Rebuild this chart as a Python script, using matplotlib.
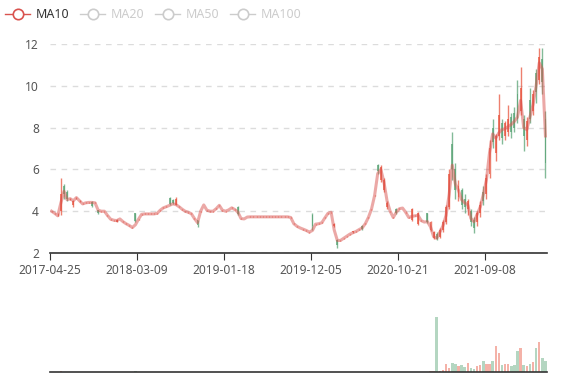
import matplotlib

matplotlib.use('agg')
import matplotlib.pyplot as plt
from matplotlib.lines import Line2D

plt.rcParams['font.family'] = ['Noto Sans', 'DejaVu Sans']

# tick labels on the category axis (every 28th category)
date_labels = ['2017-04-25', '2018-03-09', '2019-01-18', '2019-12-05', '2020-10-21', '2021-09-08']
label_step = 28

ma10 = [4.0, 3.9, 3.78, 4.4, 4.95, 4.55, 4.6, 4.5, 4.65, 4.5,
        4.35, 4.4, 4.42, 4.42, 4.4, 4.05, 4.0, 4.0, 3.8, 3.62,
        3.57, 3.55, 3.63, 3.5, 3.4, 3.32, 3.22, 3.35, 3.62, 3.85,
        3.87, 3.87, 3.87, 3.87, 3.9, 4.05, 4.16, 4.22, 4.28, 4.35,
        4.32, 4.22, 4.1, 4.0, 3.95, 3.88, 3.65, 3.45, 4.0, 4.3,
        4.05, 4.0, 4.0, 4.12, 4.28, 4.05, 4.0, 4.06, 4.16, 4.08,
        3.95, 3.65, 3.63, 3.72, 3.73, 3.73, 3.73, 3.73, 3.73, 3.73,
        3.73, 3.73, 3.73, 3.73, 3.73, 3.73, 3.73, 3.7, 3.4, 3.28,
        3.2, 3.14, 3.08, 3.0, 3.08, 3.38, 3.4, 3.45, 3.68, 3.9,
        3.95, 3.1, 2.6, 2.6, 2.7, 2.8, 2.9, 2.97, 3.03, 3.12,
        3.2, 3.4, 3.7, 4.1, 4.75, 5.8, 6.0, 5.4, 4.5, 4.0,
        3.7, 3.95, 4.12, 4.15, 3.95, 3.7, 3.75, 3.78, 3.8, 3.55,
        3.48, 3.5, 3.25, 2.78, 2.7, 3.0, 3.3, 3.8, 4.8, 6.2,
        5.3, 5.0, 4.55, 4.4, 4.3, 3.65, 3.5, 3.85, 4.2, 4.8,
        5.5, 6.8, 7.7, 7.5, 7.75, 7.9, 7.95, 8.05, 8.15, 8.3,
        8.5, 9.3, 8.0, 7.9, 8.5, 9.1, 10.0, 11.1, 10.8, 7.6]

opens = [4.0, 3.9, 3.78, 4.0, 5.2, 4.9, 4.6, 4.3, 4.65, 4.5,
         4.35, 4.4, 4.42, 4.45, 4.4, 4.05, 4.0, 4.0, 3.8, 3.62,
         3.57, 3.5, 3.63, 3.5, 3.4, 3.32, 3.22, 3.9, 3.62, 3.85,
         3.87, 3.87, 3.87, 3.87, 3.9, 4.05, 4.16, 4.22, 4.65, 4.55,
         4.3, 4.22, 4.1, 4.0, 3.95, 3.88, 3.65, 3.6, 4.0, 4.3,
         4.05, 4.0, 4.0, 4.12, 4.28, 4.05, 4.0, 4.06, 4.16, 4.08,
         4.2, 3.65, 3.63, 3.72, 3.73, 3.73, 3.73, 3.73, 3.73, 3.73,
         3.73, 3.73, 3.73, 3.73, 3.73, 3.73, 3.73, 3.7, 3.4, 3.28,
         3.2, 3.14, 3.08, 3.0, 3.8, 3.38, 3.4, 3.45, 3.68, 3.9,
         3.95, 3.3, 2.6, 2.6, 2.7, 2.8, 2.9, 3.0, 3.03, 3.12,
         3.3, 3.4, 3.7, 4.1, 4.75, 6.2, 5.5, 5.0, 4.2, 4.0,
         3.7, 4.1, 4.12, 4.15, 3.95, 3.7, 3.6, 3.78, 3.4, 3.55,
         3.48, 3.9, 3.1, 2.7, 2.9, 2.75, 3.1, 3.5, 4.2, 7.2,
         6.0, 4.7, 5.0, 4.6, 4.1, 4.0, 3.6, 3.5, 3.9, 4.9,
         4.8, 5.8, 8.0, 6.8, 7.6, 8.2, 7.6, 7.8, 8.5, 8.7,
         9.6, 8.8, 8.4, 7.4, 9.3, 8.8, 10.6, 10.3, 11.3, 8.4]

closes = [4.0, 3.9, 3.78, 4.8, 4.8, 4.6, 4.6, 4.5, 4.65, 4.5,
          4.35, 4.4, 4.42, 4.25, 4.4, 3.9, 4.0, 4.0, 3.8, 3.62,
          3.57, 3.6, 3.63, 3.5, 3.4, 3.32, 3.22, 3.55, 3.62, 3.85,
          3.87, 3.87, 3.87, 3.87, 3.9, 4.05, 4.16, 4.22, 4.35, 4.4,
          4.6, 4.22, 4.1, 4.0, 3.95, 3.88, 3.65, 3.35, 4.0, 4.3,
          4.05, 4.0, 4.0, 4.12, 4.28, 4.05, 4.0, 4.06, 4.16, 4.08,
          3.85, 3.65, 3.63, 3.72, 3.73, 3.73, 3.73, 3.73, 3.73, 3.73,
          3.73, 3.73, 3.73, 3.73, 3.73, 3.73, 3.73, 3.7, 3.4, 3.28,
          3.2, 3.14, 3.08, 3.0, 3.3, 3.38, 3.4, 3.45, 3.68, 3.9,
          3.95, 3.4, 2.4, 2.6, 2.7, 2.8, 2.9, 3.05, 3.03, 3.12,
          3.15, 3.4, 3.7, 4.1, 4.75, 5.9, 6.1, 5.5, 4.4, 4.0,
          3.7, 3.9, 4.12, 4.15, 3.95, 3.7, 4.1, 3.78, 3.9, 3.55,
          3.48, 3.5, 3.5, 3.0, 2.65, 3.1, 3.5, 4.2, 5.8, 6.0,
          5.0, 5.2, 4.3, 4.2, 4.5, 3.5, 3.2, 3.9, 4.3, 4.5,
          5.6, 7.0, 7.3, 7.6, 8.6, 7.5, 8.2, 8.4, 7.8, 8.0,
          8.4, 9.9, 7.6, 8.3, 8.4, 9.6, 9.7, 11.4, 10.2, 6.3]

highs = [4.02, 3.92, 3.9, 5.6, 5.3, 5.0, 4.65, 4.55, 4.7, 4.52,
         4.37, 4.42, 4.44, 4.5, 4.42, 4.05, 4.02, 4.02, 3.82, 3.64,
         3.59, 3.62, 3.65, 3.52, 3.42, 3.34, 3.24, 3.9, 3.64, 3.87,
         3.89, 3.89, 3.89, 3.89, 3.92, 4.07, 4.18, 4.24, 4.7, 4.6,
         4.7, 4.24, 4.12, 4.02, 3.97, 3.9, 3.67, 3.6, 4.02, 4.32,
         4.07, 4.02, 4.02, 4.14, 4.3, 4.07, 4.02, 4.08, 4.18, 4.1,
         4.25, 3.67, 3.65, 3.74, 3.75, 3.75, 3.75, 3.75, 3.75, 3.75,
         3.75, 3.75, 3.75, 3.75, 3.75, 3.75, 3.75, 3.72, 3.42, 3.3,
         3.22, 3.16, 3.1, 3.02, 3.9, 3.4, 3.42, 3.47, 3.7, 3.92,
         3.97, 3.45, 2.65, 2.62, 2.72, 2.82, 2.92, 3.07, 3.05, 3.14,
         3.35, 3.42, 3.72, 4.12, 4.77, 6.25, 6.2, 5.6, 4.5, 4.02,
         3.72, 4.15, 4.14, 4.17, 3.97, 3.72, 4.15, 3.8, 3.95, 3.57,
         3.5, 3.92, 3.55, 3.05, 3.0, 3.2, 3.6, 4.3, 6.0, 7.8,
         6.3, 5.5, 5.1, 4.8, 4.6, 4.1, 3.7, 4.0, 4.5, 5.2,
         5.8, 7.4, 8.4, 7.7, 9.6, 8.4, 8.3, 9.1, 8.7, 9.0,
         10.3, 10.9, 8.6, 8.5, 9.9, 9.8, 10.8, 11.8, 11.8, 8.8]

lows = [3.98, 3.88, 3.75, 3.8, 4.6, 4.5, 4.55, 4.2, 4.6, 4.46,
        4.33, 4.38, 4.4, 4.2, 4.38, 3.85, 3.98, 3.98, 3.78, 3.6,
        3.55, 3.48, 3.61, 3.48, 3.38, 3.3, 3.2, 3.5, 3.6, 3.83,
        3.85, 3.85, 3.85, 3.85, 3.88, 4.03, 4.14, 4.2, 4.3, 4.35,
        4.28, 4.2, 4.08, 3.98, 3.93, 3.86, 3.63, 3.25, 3.98, 4.28,
        4.03, 3.98, 3.98, 4.1, 4.26, 4.03, 3.98, 4.04, 4.14, 4.06,
        3.8, 3.63, 3.61, 3.7, 3.71, 3.71, 3.71, 3.71, 3.71, 3.71,
        3.71, 3.71, 3.71, 3.71, 3.71, 3.71, 3.71, 3.68, 3.38, 3.26,
        3.18, 3.12, 3.06, 2.98, 3.1, 3.36, 3.38, 3.43, 3.66, 3.88,
        3.93, 3.25, 2.25, 2.58, 2.68, 2.78, 2.88, 2.98, 3.01, 3.1,
        3.1, 3.38, 3.68, 4.08, 4.73, 5.8, 5.4, 4.9, 4.1, 3.98,
        3.68, 3.85, 4.1, 4.13, 3.93, 3.68, 3.55, 3.76, 3.35, 3.53,
        3.46, 3.45, 3.05, 2.65, 2.6, 2.7, 3.0, 3.4, 4.1, 5.5,
        4.6, 4.5, 4.1, 3.9, 3.8, 3.3, 2.95, 3.3, 3.7, 4.3,
        4.6, 5.6, 7.0, 6.4, 7.4, 7.2, 7.4, 7.6, 7.5, 7.8,
        8.2, 8.6, 6.9, 7.1, 8.2, 8.6, 9.2, 10.1, 9.6, 5.6]

volumes = [0.6, 0.5, 0.8, 1.0, 0.8, 0.6, 0.4, 0.3, 0.3, 0.3,
           0.3, 0.3, 0.3, 0.3, 0.3, 0.3, 0.3, 0.3, 0.3, 0.3,
           0.3, 0.3, 0.3, 0.3, 0.3, 0.3, 0.3, 1.0, 0.3, 0.3,
           0.3, 0.3, 0.3, 0.3, 0.3, 0.3, 0.3, 0.3, 0.3, 0.3,
           0.3, 0.3, 0.3, 0.3, 0.3, 0.3, 0.3, 0.3, 0.3, 0.3,
           0.3, 0.3, 0.3, 0.3, 0.3, 0.3, 0.3, 0.3, 0.3, 0.3,
           0.3, 0.3, 0.3, 0.3, 0.3, 0.3, 0.3, 0.3, 0.3, 0.3,
           0.3, 0.3, 0.3, 0.3, 0.3, 0.3, 0.3, 0.3, 0.3, 0.3,
           0.3, 0.3, 0.3, 0.3, 0.3, 0.3, 0.3, 0.3, 0.3, 0.3,
           0.3, 0.3, 0.3, 0.3, 0.3, 0.3, 0.3, 0.3, 0.3, 0.3,
           0.3, 0.3, 0.3, 0.3, 0.3, 0.3, 0.3, 0.3, 0.3, 0.3,
           0.3, 0.3, 0.3, 0.3, 0.3, 0.3, 0.3, 0.3, 0.3, 0.3,
           0.5, 0.8, 1.5, 2.0, 100, 2.0, 3.0, 14, 8, 16,
           14, 10, 12, 9, 17, 8, 6, 10, 12, 20,
           14, 15, 20, 47, 35, 12, 14, 15, 10, 12,
           38, 44, 12, 10, 15, 18, 44, 54, 25, 20]

up_color = '#e8553f'
down_color = '#5aa476'

x = list(range(len(ma10)))
colors = [up_color if c >= o else down_color for o, c in zip(opens, closes)]

fig = plt.figure(figsize=(5.77, 3.80), dpi=100)

# main candlestick panel
ax = fig.add_axes([50 / 577, 127 / 380, 497 / 577, 209 / 380])
ax.vlines(x, lows, highs, colors=colors, linewidth=1.0, alpha=0.75, zorder=2)
ax.bar(x, [abs(c - o) for o, c in zip(opens, closes)],
       bottom=[min(o, c) for o, c in zip(opens, closes)],
       width=0.6, color=colors, alpha=0.75, zorder=2)
ax.plot(x, ma10, color='#d9534f', alpha=0.5, linewidth=2.2, zorder=3)

ax.set_xlim(-0.5, len(x) - 0.5)
ax.set_ylim(2, 12)
ax.set_yticks([2, 4, 6, 8, 10, 12])
ax.set_xticks([i * label_step - 0.5 for i in range(len(date_labels))])
ax.set_xticklabels(date_labels)
ax.grid(axis='y', linestyle=(0, (4, 4)), color='#dcdcdc', linewidth=1)
ax.set_axisbelow(True)
for s in ['top', 'right', 'left']:
    ax.spines[s].set_visible(False)
ax.spines['bottom'].set_color('#333333')
ax.spines['bottom'].set_linewidth(1.2)
ax.tick_params(axis='y', length=0, pad=8, labelsize=8.6, labelcolor='#555555')
ax.tick_params(axis='x', length=5, color='#333333', pad=3, labelsize=8.6, labelcolor='#555555')

# volume panel
vax = fig.add_axes([50 / 577, 8 / 380, 497 / 577, 72 / 380])
vax.bar(x, volumes, width=0.8, color=colors, alpha=0.45)
vax.set_xlim(-0.5, len(x) - 0.5)
vax.set_ylim(0, 130)
for s in ['top', 'right', 'left']:
    vax.spines[s].set_visible(False)
vax.spines['bottom'].set_color('#333333')
vax.spines['bottom'].set_linewidth(1.2)
vax.set_xticks([])
vax.set_yticks([])

# legend drawn in pixel space across the top
lax = fig.add_axes([0, 0, 1, 1])
lax.set_xlim(0, 577)
lax.set_ylim(380, 0)
lax.axis('off')
legend_names = ['MA10', 'MA20', 'MA50', 'MA100']
legend_x = [5, 80, 155, 230]
for name, lx in zip(legend_names, legend_x):
    col = '#d9534f' if name == 'MA10' else '#cccccc'
    tcol = '#333333' if name == 'MA10' else '#cccccc'
    lax.add_line(Line2D([lx, lx + 25], [14, 14], color=col, linewidth=1.0))
    lax.plot(lx + 12.5, 14, marker='o', markersize=7.5, markerfacecolor='white',
             markeredgecolor=col, markeredgewidth=1.2)
    lax.text(lx + 31, 14, name, color=tcol, fontsize=9, va='center', ha='left')

fig.savefig('out.png', dpi=100)
